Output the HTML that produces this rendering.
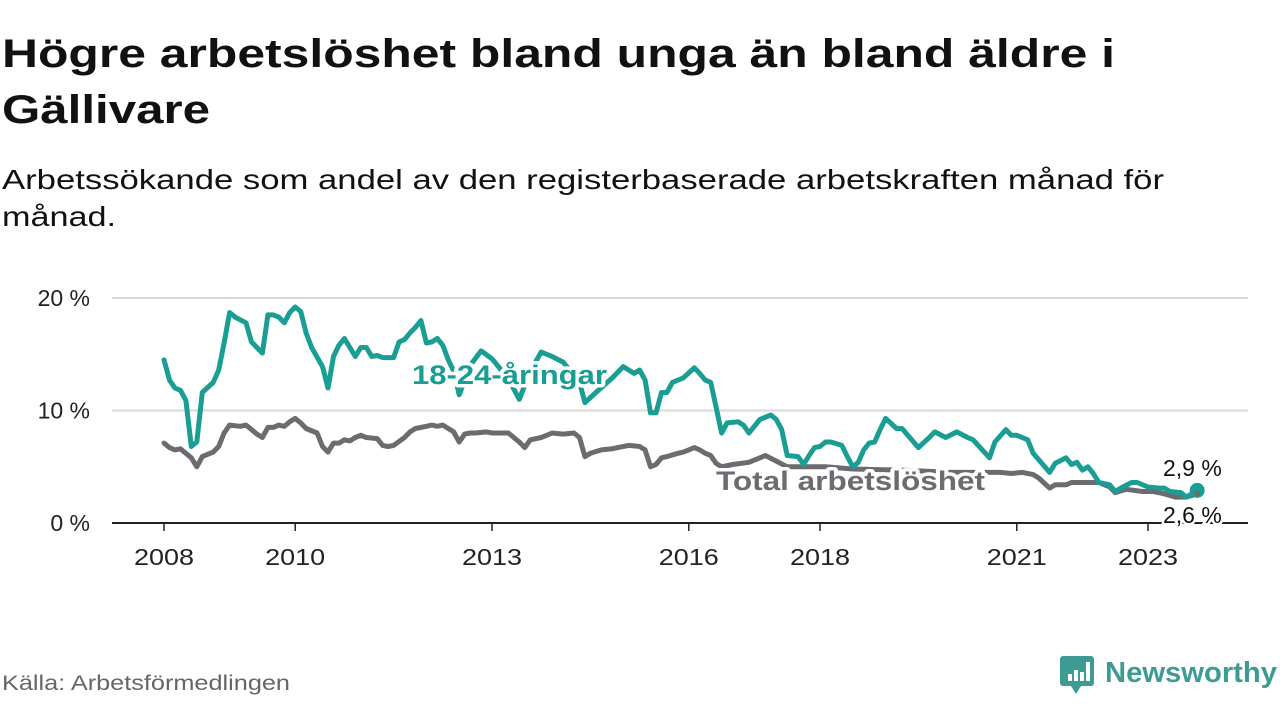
<!DOCTYPE html>
<html><head><meta charset="utf-8">
<style>
html,body{margin:0;padding:0;background:#fff;}
svg{display:block;font-family:"Liberation Sans",Arial,sans-serif;}
</style></head>
<body>
<svg id="chart" width="1280" height="720" viewBox="0 0 1280 720" xmlns="http://www.w3.org/2000/svg">
  <text x="2" y="67" font-size="40" font-weight="bold" fill="#111" textLength="1113" lengthAdjust="spacingAndGlyphs">Högre arbetslöshet bland unga än bland äldre i</text>
  <text x="2" y="123" font-size="40" font-weight="bold" fill="#111" textLength="208" lengthAdjust="spacingAndGlyphs">Gällivare</text>
  <text x="2" y="189" font-size="28" fill="#111" textLength="1162" lengthAdjust="spacingAndGlyphs">Arbetssökande som andel av den registerbaserade arbetskraften månad för</text>
  <text x="2" y="226" font-size="28" fill="#111" textLength="114" lengthAdjust="spacingAndGlyphs">månad.</text>
  <g id="grid"></g>
  <g id="series"></g>
  <g id="labels"></g>
  <text x="2" y="690" font-size="21" fill="#666" textLength="288" lengthAdjust="spacingAndGlyphs">Källa: Arbetsförmedlingen</text>
  <g>
    <path d="M1063 656 h28 a3 3 0 0 1 3 3 v24 a3 3 0 0 1 -3 3 h-10 l-5 8 l-5 -8 h-8 a3 3 0 0 1 -3 -3 v-24 a3 3 0 0 1 3 -3z" fill="#3d9b94"/>
    <rect x="1068" y="674" width="4" height="7" fill="#fff"/>
    <rect x="1074" y="670" width="4" height="11" fill="#fff"/>
    <rect x="1080" y="672" width="4" height="9" fill="#fff"/>
    <rect x="1086" y="662" width="4" height="19" fill="#fff"/>
    <text x="1105" y="682" font-size="29" font-weight="bold" fill="#3d9b94" textLength="172" lengthAdjust="spacingAndGlyphs">Newsworthy</text>
  </g>
</svg>
<script>
// Data: month index since Jan 2008, value in percent
const youthMonths = [0,1,2,3,4,5,6,7,9,10,11,12,13,15,16,17,18,19,20,21,22,23,24,25,26,27,29,30,31,32,33,34,35,36,37,38,39,40,42,43,44,45,46,47,48,49,50,51,52,53,54,56,58,60,61,63,65,67,69,71,73,76,77,79,82,84,85,86,87,88,89,90,91,92,93,95,97,98,99,100,101,102,103,105,106,107,109,111,112,113,114,116,117,118,119,120,121,122,124,125,126,127,128,129,130,131,132,134,135,138,140,141,143,145,147,148,151,152,154,155,156,158,159,162,163,165,166,167,168,169,170,171,173,174,175,177,178,180,182,183,184,186,187,189];
const youthValues = [14.5,12.7,12.0,11.8,10.9,6.8,7.2,11.6,12.5,13.6,16.0,18.7,18.3,17.8,16.1,15.6,15.1,18.5,18.5,18.3,17.8,18.7,19.2,18.8,16.9,15.6,13.9,12.0,14.8,15.8,16.4,15.6,14.8,15.6,15.6,14.8,14.9,14.7,14.7,16.1,16.3,16.9,17.4,18.0,16.0,16.1,16.4,15.8,14.5,13.5,11.4,14.0,15.3,14.6,14.0,12.8,11.0,13.5,15.2,14.8,14.3,12.5,10.7,11.6,12.9,13.9,13.6,13.3,13.6,12.7,9.8,9.8,11.6,11.6,12.5,12.9,13.8,13.3,12.7,12.5,10.3,8.0,8.9,9.0,8.7,8.0,9.2,9.6,9.2,8.3,6.0,5.9,5.2,6.0,6.7,6.8,7.2,7.2,6.9,5.9,5.0,5.4,6.5,7.1,7.2,8.3,9.3,8.4,8.4,6.7,7.6,8.1,7.6,8.1,7.6,7.4,5.8,7.2,8.3,7.8,7.8,7.4,6.2,4.5,5.3,5.8,5.2,5.4,4.7,5.0,4.4,3.6,3.4,2.8,3.1,3.6,3.6,3.2,3.1,3.1,2.8,2.7,2.3,2.9];
const totalMonths = [0,1,2,3,4,5,6,7,9,10,11,12,14,15,16,17,18,19,20,21,22,23,24,25,26,28,29,30,31,32,33,34,35,36,37,39,40,41,42,44,45,46,48,49,50,51,53,54,55,56,57,59,60,63,65,66,67,69,70,71,73,75,76,77,78,80,82,83,85,87,88,89,90,91,92,94,95,96,97,98,99,100,101,102,104,107,109,110,112,114,116,121,126,135,144,151,153,155,157,159,160,162,163,165,166,168,169,171,173,174,176,179,181,183,185,187,189];
const totalValues = [7.1,6.7,6.5,6.6,6.2,5.8,5.0,5.9,6.3,6.8,8.0,8.7,8.6,8.7,8.3,7.9,7.6,8.5,8.5,8.7,8.6,9.0,9.3,8.9,8.4,8.0,6.8,6.3,7.1,7.1,7.4,7.3,7.6,7.8,7.6,7.5,6.9,6.8,6.9,7.6,8.1,8.4,8.6,8.7,8.6,8.7,8.1,7.2,7.9,8.0,8.0,8.1,8.0,8.0,7.2,6.7,7.4,7.6,7.8,8.0,7.9,8.0,7.6,5.9,6.2,6.5,6.6,6.7,6.9,6.8,6.5,5.0,5.2,5.8,5.9,6.2,6.3,6.5,6.7,6.5,6.2,6.0,5.3,5.0,5.2,5.4,5.8,6.0,5.5,5.0,5.0,5.0,4.8,4.7,4.5,4.5,4.5,4.4,4.5,4.3,4.0,3.1,3.4,3.4,3.6,3.6,3.6,3.6,3.2,2.7,3.0,2.8,2.8,2.6,2.3,2.3,2.6];
const yTicks = [0,10,20];
const yTickLabels = ["0 %","10 %","20 %"];
const xTickYears = [2008,2010,2013,2016,2018,2021,2023];
const lastLabels = ["2,9 %","2,6 %"];

const NS = "http://www.w3.org/2000/svg";
const X0 = 164, PX_PER_YEAR = 65.6, Y0 = 523, PX_PER_PCT = 11.25;
const xMonth = m => X0 + m / 12 * PX_PER_YEAR;
const xYear = y => X0 + (y - 2008) * PX_PER_YEAR;
const yVal = v => Y0 - v * PX_PER_PCT;
function mk(tag, attrs, parent){const e=document.createElementNS(NS,tag);for(const k in attrs)e.setAttribute(k,attrs[k]);parent.appendChild(e);return e;}

const grid = document.getElementById('grid');
yTicks.forEach((t,i)=>{
  if(t>0){
    const l = mk('line',{x1:112,x2:1248,y1:yVal(t),y2:yVal(t),stroke:'#d9d9d9','stroke-width':2},grid);
    
    
  }
  const tx = mk('text',{x:90,y:yVal(t)+8,'font-size':23,fill:'#222','text-anchor':'end'},grid);
  tx.textContent = yTickLabels[i];
  
  
});
const axis = mk('line',{x1:112,x2:1248,y1:Y0,y2:Y0,stroke:'#222','stroke-width':2},grid);


xTickYears.forEach(y=>{
  const tk = mk('line',{x1:xYear(y),x2:xYear(y),y1:Y0,y2:Y0+8,stroke:'#222','stroke-width':1.5},grid);
  
  
  const tx = mk('text',{x:xYear(y),y:565,'font-size':23,fill:'#222','text-anchor':'middle',textLength:60,lengthAdjust:'spacingAndGlyphs'},grid);
  tx.textContent = y;
  
  
});

const series = document.getElementById('series');
function path(ms, vs){return ms.map((m,i)=>(i?'L':'M')+xMonth(m).toFixed(1)+' '+yVal(vs[i]).toFixed(1)).join(' ');}
const tl = mk('path',{d:path(totalMonths,totalValues),fill:'none',stroke:'#6c6b70','stroke-width':5,'stroke-linejoin':'round','stroke-linecap':'round'},series);


const yl = mk('path',{d:path(youthMonths,youthValues),fill:'none',stroke:'#1a9e94','stroke-width':5,'stroke-linejoin':'round','stroke-linecap':'round'},series);


const lm = youthMonths[youthMonths.length-1];
const dot = mk('circle',{cx:xMonth(lm),cy:yVal(youthValues[youthValues.length-1]),r:7.5,fill:'#1a9e94'},series);


const tdot = mk('circle',{cx:xMonth(totalMonths[totalMonths.length-1]),cy:yVal(totalValues[totalValues.length-1]),r:3,fill:'#6c6b70'},series);



const labels = document.getElementById('labels');
const l1 = mk('text',{x:412,y:384,'font-size':27,'font-weight':'bold',fill:'#1a9e94',stroke:'#fff','stroke-width':7,'paint-order':'stroke','stroke-linejoin':'round',textLength:195,lengthAdjust:'spacingAndGlyphs'},labels);
l1.textContent='18-24-åringar';


const l2 = mk('text',{x:716,y:490,'font-size':27,'font-weight':'bold',fill:'#6c6b70',stroke:'#fff','stroke-width':7,'paint-order':'stroke','stroke-linejoin':'round',textLength:269,lengthAdjust:'spacingAndGlyphs'},labels);
l2.textContent='Total arbetslöshet';


const v1 = mk('text',{x:1163,y:476,'font-size':23,fill:'#111',stroke:'#fff','stroke-width':5,'paint-order':'stroke'},labels);
v1.textContent=lastLabels[0];


const v2 = mk('text',{x:1163,y:523,'font-size':23,fill:'#111',stroke:'#fff','stroke-width':5,'paint-order':'stroke'},labels);
v2.textContent=lastLabels[1];


</script>
</body></html>
